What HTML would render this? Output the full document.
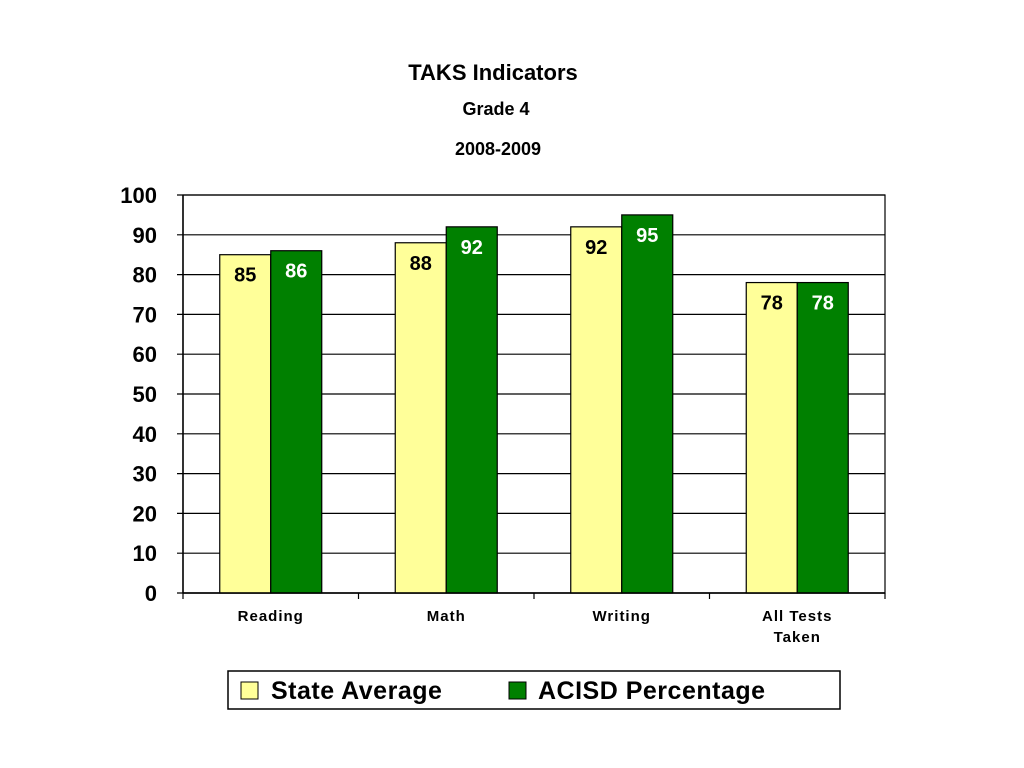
<!DOCTYPE html>
<html><head><meta charset="utf-8"><style>
body{margin:0;background:#fff;}
svg{display:block;font-family:"Liberation Sans",Arial,sans-serif;}
</style></head><body>
<svg id="chart" width="1024" height="768">
<text x="493" y="80" text-anchor="middle" font-size="22" font-weight="bold">TAKS Indicators</text>
<text x="496" y="115" text-anchor="middle" font-size="18" font-weight="bold">Grade 4</text>
<text x="498" y="155" text-anchor="middle" font-size="18" font-weight="bold">2008-2009</text>
<g id="grid"></g><g id="bars"></g><g id="axes"></g>
<g>
<rect x="228" y="671" width="612" height="38" fill="#fff" stroke="#000" stroke-width="1.5"/>
<rect x="241" y="682" width="17" height="17" fill="#FFFF99" stroke="#000"/>
<text x="271" y="699" font-size="25" font-weight="bold" letter-spacing="0.5">State Average</text>
<rect x="509" y="682" width="17" height="17" fill="#008000" stroke="#000"/>
<text x="538" y="699" font-size="25" font-weight="bold" letter-spacing="0.5">ACISD Percentage</text>
</g>
</svg>
<script>
const categories=[["Reading"],["Math"],["Writing"],["All Tests","Taken"]];
const stateValues=[85,88,92,78];
const acisdValues=[86,92,95,78];
const yTicks=[0,10,20,30,40,50,60,70,80,90,100];
const NS="http://www.w3.org/2000/svg";
const L=183,R=885,T=195,B=593;
const y=v=>B-(v/100)*(B-T);
const band=(R-L)/categories.length;
const cx=i=>L+band*(i+0.5);
function mk(tag,attrs,parent,txt){const e=document.createElementNS(NS,tag);for(const k in attrs)e.setAttribute(k,attrs[k]);if(txt!==undefined)e.textContent=txt;parent.appendChild(e);return e;}
const grid=document.getElementById('grid'),bars=document.getElementById('bars'),axes=document.getElementById('axes');
mk('rect',{x:L,y:T,width:R-L,height:B-T,fill:'none',stroke:'#000','stroke-width':1.2},grid);
yTicks.forEach(t=>{
 const g=mk('line',{x1:L-6,x2:R,y1:y(t),y2:y(t),stroke:'#000','stroke-width':1.2},grid);
 
 const tx=mk('text',{x:L-26,y:y(t)+8,'text-anchor':'end','font-size':22,'font-weight':'bold'},axes,t);
 
 
});
mk('line',{x1:L,x2:L,y1:T,y2:B,stroke:'#000','stroke-width':1.5},axes);
mk('line',{x1:L,x2:R,y1:B,y2:B,stroke:'#000','stroke-width':1.5},axes);
for(let i=0;i<=categories.length;i++){mk('line',{x1:L+band*i,x2:L+band*i,y1:B,y2:B+6,stroke:'#000','stroke-width':1.2},axes);}
const bw=51;
categories.forEach((c,i)=>{
 const x0=cx(i)-bw;
 const r1=mk('rect',{x:x0,y:y(stateValues[i]),width:bw,height:B-y(stateValues[i]),fill:'#FFFF99',stroke:'#000','stroke-width':1.2},bars);
 
 const r2=mk('rect',{x:x0+bw,y:y(acisdValues[i]),width:bw,height:B-y(acisdValues[i]),fill:'#008000',stroke:'#000','stroke-width':1.2},bars);
 
 const l1=mk('text',{x:x0+bw/2,y:y(stateValues[i])+27,'text-anchor':'middle','font-size':20,'font-weight':'bold',fill:'#000'},bars,stateValues[i]);
 
 const l2=mk('text',{x:x0+bw*1.5,y:y(acisdValues[i])+27,'text-anchor':'middle','font-size':20,'font-weight':'bold',fill:'#fff'},bars,acisdValues[i]);
 
 c.forEach((line,j)=>{
  const t=mk('text',{x:cx(i),y:621+j*21,'text-anchor':'middle','font-size':15,'font-weight':'bold','letter-spacing':1},axes,line);
  
 });
});
</script>
</body></html>
